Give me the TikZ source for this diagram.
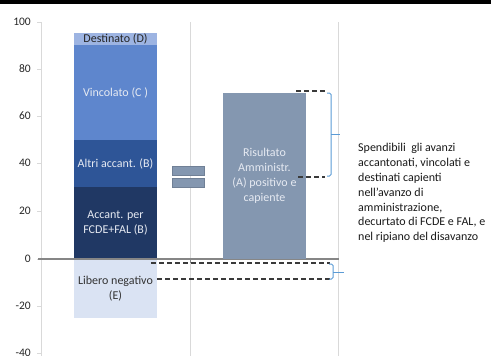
\documentclass[tikz,border=0pt]{standalone}
\usepackage{fontspec}
\setmainfont{Carlito}
\definecolor{destC}{HTML}{9DB4E2}
\definecolor{vincC}{HTML}{5E86CD}
\definecolor{altrC}{HTML}{2E5597}
\definecolor{fcdeC}{HTML}{203864}
\definecolor{liberC}{HTML}{DAE3F3}
\definecolor{risC}{HTML}{8497B0}
\definecolor{gridC}{HTML}{D9D9D9}
\definecolor{axisC}{HTML}{868686}
\definecolor{braceC}{HTML}{5B9BD5}
\definecolor{dashC}{HTML}{3A3A3A}
\definecolor{lightT}{HTML}{E6EAF2}
\begin{document}
\begin{tikzpicture}[x=1pt,y=-1pt,
  bar/.style={draw=none,minimum width=83pt,inner sep=0pt,align=center,
    font=\fontsize{12}{15}\selectfont},
  eqbox/.style={fill=risC,draw=risC!85!black,line width=0.6pt,inner sep=0pt,
    minimum width=32pt,minimum height=9pt},
  grid/.style={gridC,line width=0.8pt},
  ylab/.style={anchor=east,inner sep=0pt,text=black!85,font=\fontsize{11.5}{12}\selectfont},
  gap/.style={dashC,line width=1.3pt,dash pattern=on 5pt off 3pt},
  brace/.style={braceC,line width=1pt,rounded corners=1.5pt}]
\useasboundingbox (0,0) rectangle (491,356);
\fill[black] (0,0) rectangle (491,4);

% gridlines and axes
\draw[grid] (190,22) -- (190,356);
\draw[grid] (338,22) -- (338,356);
\draw[grid] (41,22) -- (41,356);
\foreach \v/\y in {100/22,80/69,60/116,40/163,20/211,0/259,-20/306,-40/353}{
  \draw[grid] (37,\y) -- (41,\y);
  \node[ylab] at (31,\y) {\v};
}

% left stacked column
\node[bar,fill=destC,minimum height=12pt,text=black!85] (dest) at (115.5,39) {Destinato (D)};
\node[bar,fill=vincC,minimum height=95pt,text=lightT] (vinc) at (115.5,92.5) {Vincolato (C )};
\node[bar,fill=altrC,minimum height=47pt,text=lightT] (altr) at (115.5,163.5) {Altri accant. (B)};
\node[bar,fill=fcdeC,minimum height=72pt,text=lightT] (fcde) at (115.5,223) {Accant. per\\FCDE+FAL (B)};
\node[bar,fill=liberC,minimum height=59pt,text=black!80] (liber) at (115.5,288.5) {Libero negativo\\(E)};

% zero line
\draw[axisC,line width=1.3pt] (38,259) -- (339,259);
\draw[axisC,line width=0.8pt] (190,259) -- (190,263);

% equals sign
\node[eqbox] (eqa) at (188,170.5) {};
\node[eqbox] (eqb) at (188,182.5) {};

% right column
\node[bar,fill=risC,minimum height=166pt,text=lightT] (ris) at (264.5,176) {Risultato\\Amministr.\\(A) positivo e\\capiente};

% dashed guides and braces
\coordinate (t1) at (296,91);  \coordinate (t2) at (325,91);
\coordinate (b1) at (298,177); \coordinate (b2) at (325,177);
\draw[gap] (t1) -- (t2);
\draw[gap] (b1) -- (b2);
\draw[brace] (327,93) -- (331,93) -- (331,176) -- (327,176);
\draw[braceC,line width=1pt] (331,134) -- (340,134);

\coordinate (l1) at (151,263); \coordinate (l2) at (330,263);
\coordinate (m1) at (157,279); \coordinate (m2) at (330,279);
\draw[gap] (l1) -- (l2);
\draw[gap] (m1) -- (m2);
\draw[brace] (329,264) -- (333,264) -- (333,279) -- (329,279);
\draw[braceC,line width=1pt] (333,272) -- (344,272);

% note
\node[anchor=west,inner sep=0pt,align=left,text=black!90,
  font=\fontsize{12}{14.8}\selectfont] (note) at (358,193)
  {Spendibili\ \ gli avanzi\\accantonati, vincolati e\\destinati capienti\\nell’avanzo di\\amministrazione,\\decurtato di FCDE e FAL, e\\nel ripiano del disavanzo};
\end{tikzpicture}
\end{document}
